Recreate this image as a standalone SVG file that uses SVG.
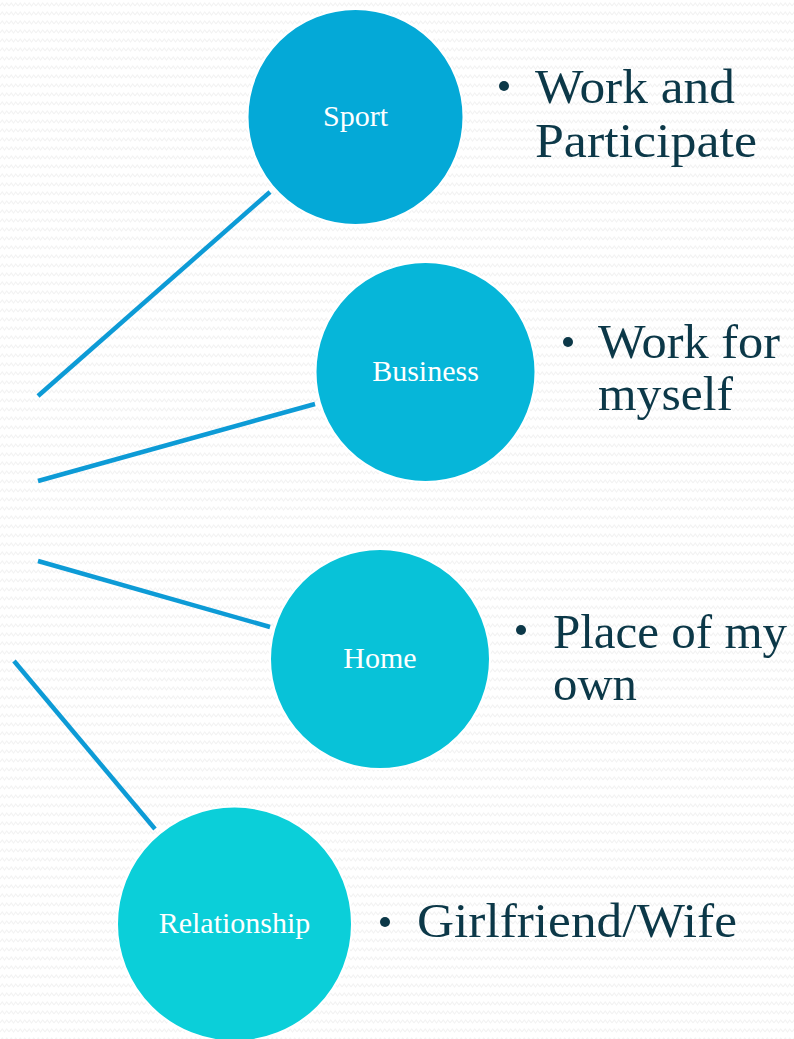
<svg xmlns="http://www.w3.org/2000/svg" width="794" height="1039" viewBox="0 0 794 1039">
  <defs>
    <pattern id="zig" width="9" height="9" patternUnits="userSpaceOnUse">
      <polyline points="0,6 2.25,3 4.5,6 6.75,3 9,6" fill="none" stroke="#f3f3f3" stroke-width="1.2"/>
    </pattern>
  </defs>
  <style>
    .conn { stroke: #0d9bd6; stroke-width: 4.5; fill: none; }
    .node circle { stroke: #ffffff; stroke-width: 2; }
    .lbl { font-family: "Liberation Serif", "DejaVu Serif", serif; font-size: 30px; fill: #ffffff; text-anchor: middle; }
    .txt { font-family: "Liberation Serif", "DejaVu Serif", serif; font-size: 49px; fill: #0c3848; }
    .bul { fill: #0c3848; }
  </style>
  <rect width="794" height="1039" fill="#ffffff"/>
  <rect width="794" height="1039" fill="url(#zig)"/>

  <g id="connectors">
    <line class="conn" x1="38" y1="396" x2="270" y2="192"/>
    <line class="conn" x1="38" y1="481" x2="315" y2="404"/>
    <line class="conn" x1="38" y1="561" x2="270" y2="627"/>
    <line class="conn" x1="14" y1="661" x2="155" y2="829"/>
  </g>

  <g id="node-sport" class="node">
    <circle cx="355.5" cy="117" r="108" fill="#04a9d7"/>
    <text class="lbl" x="355.5" y="126">Sport</text>
  </g>
  <g id="node-business" class="node">
    <circle cx="425.5" cy="372" r="110" fill="#06b6d9"/>
    <text class="lbl" x="425.5" y="381">Business</text>
  </g>
  <g id="node-home" class="node">
    <circle cx="380" cy="659" r="110" fill="#08c2d8"/>
    <text class="lbl" x="380" y="668">Home</text>
  </g>
  <g id="node-relationship" class="node">
    <circle cx="234.5" cy="924" r="117.5" fill="#0bcfd9"/>
    <text class="lbl" x="234.5" y="933">Relationship</text>
  </g>

  <g id="text-sport">
    <circle class="bul" cx="504" cy="86" r="5"/>
    <text class="txt" x="535" y="103" textLength="200" lengthAdjust="spacingAndGlyphs">Work and</text>
    <text class="txt" x="535" y="157" textLength="222" lengthAdjust="spacingAndGlyphs">Participate</text>
  </g>
  <g id="text-business">
    <circle class="bul" cx="568" cy="342" r="5"/>
    <text class="txt" x="598" y="358" textLength="182" lengthAdjust="spacingAndGlyphs">Work for</text>
    <text class="txt" x="598" y="410" textLength="135" lengthAdjust="spacingAndGlyphs">myself</text>
  </g>
  <g id="text-home">
    <circle class="bul" cx="521" cy="630" r="5"/>
    <text class="txt" x="553" y="648" textLength="234" lengthAdjust="spacingAndGlyphs">Place of my</text>
    <text class="txt" x="553" y="700" textLength="84" lengthAdjust="spacingAndGlyphs">own</text>
  </g>
  <g id="text-relationship">
    <circle class="bul" cx="385" cy="922" r="5"/>
    <text class="txt" x="417" y="937" textLength="320" lengthAdjust="spacingAndGlyphs">Girlfriend/Wife</text>
  </g>
</svg>
